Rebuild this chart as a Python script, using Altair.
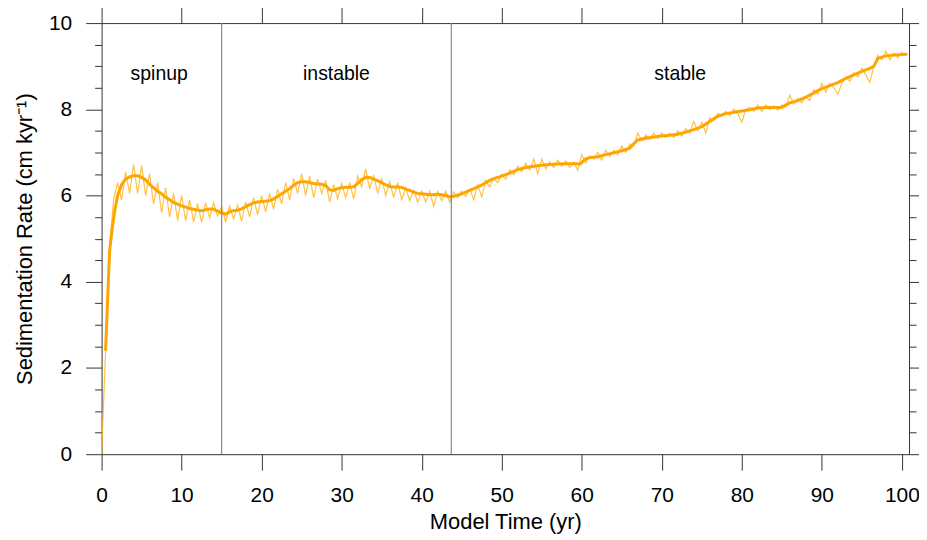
import altair as alt
import numpy as np
import pandas as pd

# ---- data ----
thin_t = list(np.arange(0, 100.51, 0.5))
thin_v = [
    0.0, 2.4, 4.8, 5.9, 6.3, 5.9, 6.55, 6.05, 6.72, 6.05,
    6.7, 6.0, 6.5, 5.8, 6.3, 5.6, 6.18, 5.5, 6.05, 5.42,
    6.0, 5.42, 5.9, 5.38, 5.82, 5.38, 5.83, 5.48, 5.83, 5.52,
    5.75, 5.38, 5.75, 5.45, 5.78, 5.4, 5.85, 5.5, 5.95, 5.55,
    6.0, 5.62, 6.05, 5.68, 6.15, 5.8, 6.3, 5.9, 6.4, 6.05,
    6.5, 6.0, 6.45, 5.95, 6.38, 6.05, 6.35, 5.85, 6.25, 5.92,
    6.28, 5.95, 6.3, 5.92, 6.45, 6.2, 6.62, 6.15, 6.48, 6.05,
    6.4, 6.0, 6.32, 5.95, 6.3, 5.9, 6.18, 5.88, 6.12, 5.85,
    6.1, 5.85, 6.1, 5.75, 6.1, 5.88, 6.1, 5.85, 6.08, 5.95,
    6.1, 5.98, 6.15, 5.9, 6.25, 5.97, 6.35, 6.2, 6.4, 6.3,
    6.5, 6.38, 6.6, 6.48, 6.68, 6.55, 6.75, 6.6, 6.85, 6.5,
    6.85, 6.62, 6.78, 6.65, 6.82, 6.68, 6.8, 6.65, 6.78, 6.58,
    6.95, 6.75, 6.92, 6.85, 7.0, 6.82, 7.05, 6.9, 7.05, 6.95,
    7.15, 7.0, 7.2, 7.15, 7.45, 7.28, 7.4, 7.3, 7.45, 7.32,
    7.45, 7.35, 7.45, 7.35, 7.5, 7.38, 7.55, 7.45, 7.72, 7.5,
    7.7, 7.45, 7.8, 7.75, 7.9, 7.85, 7.95, 7.85, 8.0, 7.9,
    7.7, 8.0, 8.05, 7.95, 8.1, 7.95, 8.1, 8.0, 8.08, 7.98,
    8.1, 8.05, 8.33, 8.12, 8.25, 8.15, 8.3, 8.2, 8.45, 8.35,
    8.6, 8.4, 8.6, 8.5, 8.35, 8.6, 8.75, 8.65, 8.85, 8.75,
    8.95, 8.8, 8.62, 9.0, 9.25, 9.15, 9.35, 9.15, 9.3, 9.2,
    9.32, 9.25,
]

smooth_t = [
    0.5, 0.8, 1.0, 1.3, 1.6, 2.0, 2.5, 3.0, 3.5, 4.0, 4.5, 5.0, 5.5, 6.0, 6.5,
    7.0, 7.5, 8.0, 8.5, 9.0, 9.5, 10.0, 10.5, 11.0, 11.5, 12.0, 12.5, 13.0, 13.5,
    14.0, 14.5, 15.0, 15.5, 16.0, 16.5, 17.0, 17.5, 18.0, 18.5, 19.0, 19.5, 20.0,
    20.5, 21.0, 21.5, 22.0, 22.5, 23.0, 23.5, 24.0, 24.5, 25.0, 25.5, 26.0, 26.5,
    27.0, 27.5, 28.0, 28.5, 29.0, 29.5, 30.0, 30.5, 31.0, 31.5, 32.0, 32.5, 33.0,
    33.5, 34.0, 34.5, 35.0, 35.5, 36.0, 36.5, 37.0, 37.5, 38.0, 38.5, 39.0, 39.5,
    40.0, 40.5, 41.0, 41.5, 42.0, 42.5, 43.0, 43.5, 44.0, 44.5, 45.0, 45.5, 46.0,
    46.5, 47.0, 47.5, 48.0, 48.5, 49.0, 49.5, 50.0, 51.0, 52.0, 53.0, 54.0, 55.0,
    56.0, 57.0, 58.0, 59.0, 59.8, 60.5, 61.0, 62.0, 63.0, 64.0, 65.0, 66.0, 66.5,
    67.0, 68.0, 69.0, 70.0, 71.0, 72.0, 73.0, 74.0, 75.0, 76.0, 77.0, 78.0, 79.0,
    80.0, 81.0, 82.0, 83.0, 84.0, 85.0, 86.0, 87.0, 88.0, 89.0, 90.0, 91.0, 92.0,
    93.0, 94.0, 95.0, 96.0, 96.5, 97.0, 98.0, 99.0, 100.0, 100.7,
]
smooth_v = [
    2.4, 3.8, 4.7, 5.2, 5.6, 6.0, 6.25, 6.38, 6.43, 6.46, 6.46, 6.42, 6.36, 6.26, 6.18,
    6.1, 6.04, 5.96, 5.9, 5.84, 5.8, 5.76, 5.73, 5.7, 5.68, 5.66, 5.65, 5.67, 5.69,
    5.68, 5.64, 5.59, 5.57, 5.62, 5.65, 5.66, 5.69, 5.74, 5.79, 5.83, 5.85, 5.86,
    5.87, 5.88, 5.92, 5.98, 6.04, 6.1, 6.16, 6.24, 6.3, 6.32, 6.32, 6.3, 6.28,
    6.27, 6.26, 6.23, 6.13, 6.12, 6.16, 6.18, 6.19, 6.19, 6.2, 6.28, 6.37, 6.42,
    6.42, 6.38, 6.34, 6.3, 6.25, 6.21, 6.2, 6.2, 6.19, 6.15, 6.12, 6.08, 6.05,
    6.04, 6.03, 6.02, 6.02, 6.03, 6.02, 6.0, 5.97, 5.98, 6.01, 6.04, 6.08, 6.12,
    6.16, 6.2, 6.24, 6.3, 6.35, 6.39, 6.42, 6.45, 6.52, 6.6, 6.65, 6.68, 6.7,
    6.72, 6.73, 6.74, 6.74, 6.73, 6.85, 6.88, 6.9, 6.95, 6.99, 7.04, 7.1, 7.2,
    7.29, 7.33, 7.36, 7.38, 7.4, 7.42, 7.47, 7.53, 7.6, 7.72, 7.84, 7.9, 7.93,
    7.96, 7.99, 8.03, 8.04, 8.04, 8.05, 8.15, 8.2, 8.28, 8.38, 8.48, 8.55, 8.62,
    8.72, 8.8, 8.88, 8.95, 9.0, 9.18, 9.24, 9.26, 9.27, 9.28,
]

phase_bounds = [15.0, 43.7]
phase_names = ["spinup", "instable", "stable"]
phase_x = [7.2, 29.35, 72.3]
phase_label_y = 8.82

x_major = [0, 10, 20, 30, 40, 50, 60, 70, 80, 90, 100]
y_major = [0, 2, 4, 6, 8, 10]
y_minor = [0.5, 1, 1.5, 2.5, 3, 3.5, 4.5, 5, 5.5, 6.5, 7, 7.5, 8.5, 9, 9.5]

X_DOM = [0, 100.9]
Y_DOM = [0, 10]

thin_df = pd.DataFrame({"t": thin_t, "v": thin_v})
smooth_df = pd.DataFrame({"t": smooth_t, "v": smooth_v})
bound_df = pd.DataFrame({"t": phase_bounds})
label_df = pd.DataFrame({"t": phase_x, "name": phase_names})

FONT = "Liberation Sans"
TC = "#333333"
xs = alt.Scale(domain=X_DOM, nice=False, zero=False)
ys = alt.Scale(domain=Y_DOM, nice=False, zero=False)

common = dict(domain=False, grid=False, tickColor=TC, tickWidth=1,
              labelFont=FONT, labelColor="black", titleFont=FONT,
              titleColor="black", titleFontWeight="normal",
              labelFlush=False, labelOverlap=False)

thin = alt.Chart(thin_df).mark_line(color="#FFB627", strokeWidth=1.2, opacity=0.85).encode(
    x=alt.X("t:Q", scale=xs, axis=alt.Axis(
        orient="bottom", values=x_major, tickSize=16, labelFontSize=21,
        labelPadding=15, title="Model Time (yr)", titleFontSize=22,
        titlePadding=6, **common)),
    y=alt.Y("v:Q", scale=ys, axis=alt.Axis(
        orient="left", values=y_major, tickSize=16, labelFontSize=21,
        labelPadding=14, title="Sedimentation Rate (cm kyr\u207b\u00b9)",
        titleFontSize=22, titlePadding=12, **common)),
)

thick = alt.Chart(smooth_df).mark_line(color="#FFA500", strokeWidth=3).encode(
    x=alt.X("t:Q", scale=xs, axis=alt.Axis(
        orient="top", values=x_major, tickSize=16, labels=False, title=None,
        **common)),
    y=alt.Y("v:Q", scale=ys, axis=alt.Axis(
        orient="right", values=y_major, tickSize=16, labels=False, title=None,
        **common)),
)

rules = alt.Chart(bound_df).mark_rule(color="#888888", strokeWidth=1.2).encode(
    x=alt.X("t:Q", scale=xs, axis=None),
    y=alt.YDatum(0, scale=ys, axis=alt.Axis(
        orient="left", values=y_minor, tickSize=7, labels=False, title=None,
        **common)),
    y2=alt.Y2Datum(10),
)

labels = alt.Chart(label_df).mark_text(
    font=FONT, fontSize=19.5, color="black", align="center", baseline="middle"
).encode(
    x=alt.X("t:Q", scale=xs, axis=None),
    y=alt.YDatum(phase_label_y, scale=ys, axis=alt.Axis(
        orient="right", values=y_minor, tickSize=7, labels=False, title=None,
        **common)),
    text="name:N",
)

chart = alt.layer(thin, thick, rules, labels).resolve_axis(
    x="independent", y="independent"
).properties(
    width=811, height=433,
    padding={"left": 94, "top": 14, "right": 10, "bottom": 80},
    autosize=alt.AutoSizeParams(type="none"),
    background="white",
).configure_view(stroke=TC, strokeWidth=1)

chart.save("out.html", embed_options={"renderer": "svg", "actions": False})
